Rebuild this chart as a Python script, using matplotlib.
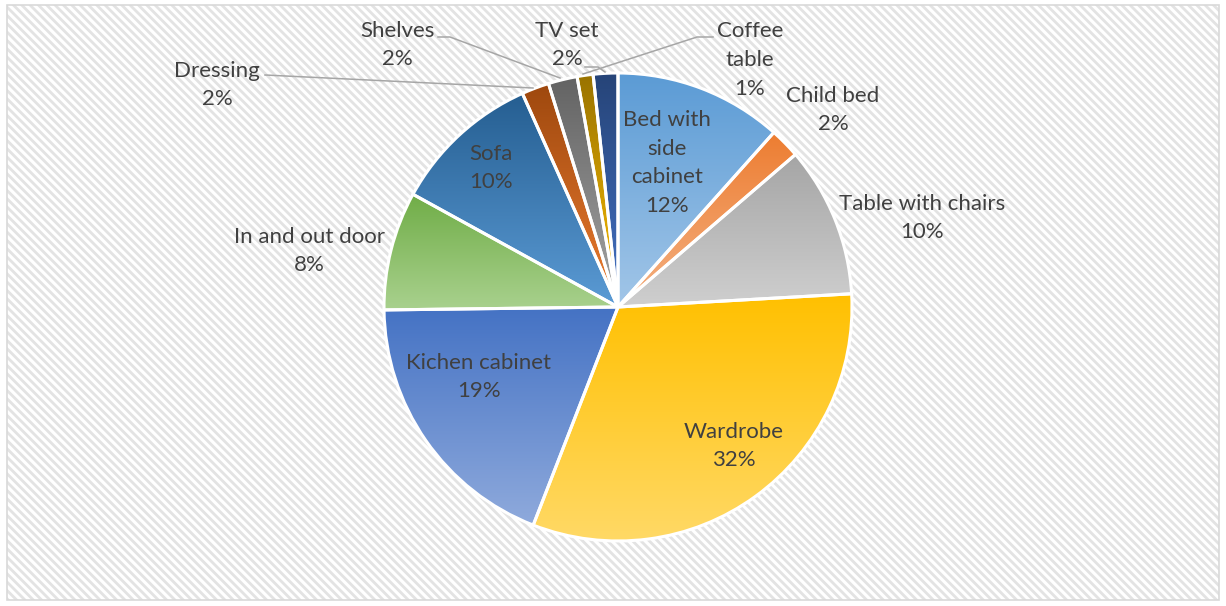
import numpy as np
import matplotlib
matplotlib.use("Agg")
import matplotlib.pyplot as plt
from matplotlib.patches import Rectangle
from matplotlib.colors import to_rgb

# ---- data ----
categories = ["Bed with\nside\ncabinet", "Child bed", "Table with chairs", "Wardrobe",
              "Kichen cabinet", "In and out door", "Sofa", "Dressing", "Shelves",
              "Coffee\ntable", "TV set"]
values = [11.6, 2.1, 10.4, 31.8, 18.9, 8.2, 10.3, 1.9, 2.0, 1.1, 1.7]

# ---- styles ----
top_colors = ["#5B9BD5", "#ED7D31", "#A5A5A5", "#FFC000", "#4472C4", "#70AD47",
              "#255E91", "#9E480E", "#636363", "#997300", "#264478"]
bottom_colors = ["#A2C6E8", "#F4B183", "#CFCFCF", "#FFD966", "#8FAADC", "#A9D18E",
                 "#5B9BD5", "#ED7D31", "#A5A5A5", "#FFC000", "#4472C4"]
# label anchor (pixel coords, centre of text block)
label_pos = [(667, 163), (833, 110), (922, 218), (734, 446), (479, 377), (309, 251),
             (491, 168), (217, 85), (397, 45), (750, 60), (567, 45)]
leaders = {
    7: [(265, 75), (533, 88)],
    8: [(438, 37), (450, 37), (560, 78)],
    9: [(713, 37), (697, 37), (583, 74)],
    10: [(585, 67), (598, 67), (605, 72)],
}

W, H = 1226, 606
plt.rcParams['font.family'] = ['Lato', 'DejaVu Sans']
fig = plt.figure(figsize=(W / 100, H / 100), dpi=100)
ax = fig.add_axes([0, 0, 1, 1])


def py(y):
    return H - y


plt.rcParams['hatch.linewidth'] = 2.0
bg = Rectangle((7, py(600)), 1212, 595, facecolor="white", edgecolor="#E3E3E3",
               linewidth=0, hatch="\\\\\\\\", zorder=0)
ax.add_patch(bg)
border = Rectangle((7, py(600)), 1212, 595, facecolor="none", edgecolor="#D9D9D9",
                   linewidth=1.2, zorder=1)
ax.add_patch(border)

cx, cy, R = 618, 307, 234
wedges, _ = ax.pie(values, startangle=90, counterclock=False, center=(cx, py(cy)),
                   radius=R, frame=False,
                   wedgeprops=dict(edgecolor="white", linewidth=2.2, facecolor="none"))

for i, w in enumerate(wedges):
    w.set_zorder(3)
    ext = w.get_path().get_extents()
    c0 = np.array(to_rgb(bottom_colors[i]))
    c1 = np.array(to_rgb(top_colors[i]))
    t = np.linspace(0, 1, 256)[:, None]
    grad = (c0[None, :] * (1 - t) + c1[None, :] * t)[:, None, :]
    im = ax.imshow(grad, extent=(ext.x0, ext.x1, ext.y0, ext.y1), origin="lower",
                   aspect="auto", zorder=2, interpolation="bilinear")
    im.set_clip_path(w)

total = sum(values)
for i, (lab, v) in enumerate(zip(categories, values)):
    x, y = label_pos[i]
    ax.text(x, py(y), f"{lab}\n{v / total * 100:.0f}%", ha="center", va="center",
            fontsize=16, color="#404040", linespacing=1.55, zorder=5)

for i, pts in leaders.items():
    xs = [p[0] for p in pts]
    ys = [py(p[1]) for p in pts]
    ax.plot(xs, ys, color="#A6A6A6", linewidth=1.1, zorder=4)

ax.set_xlim(0, W)
ax.set_ylim(0, H)
ax.set_aspect("equal")
ax.axis("off")
fig.savefig("out.png", dpi=100)
